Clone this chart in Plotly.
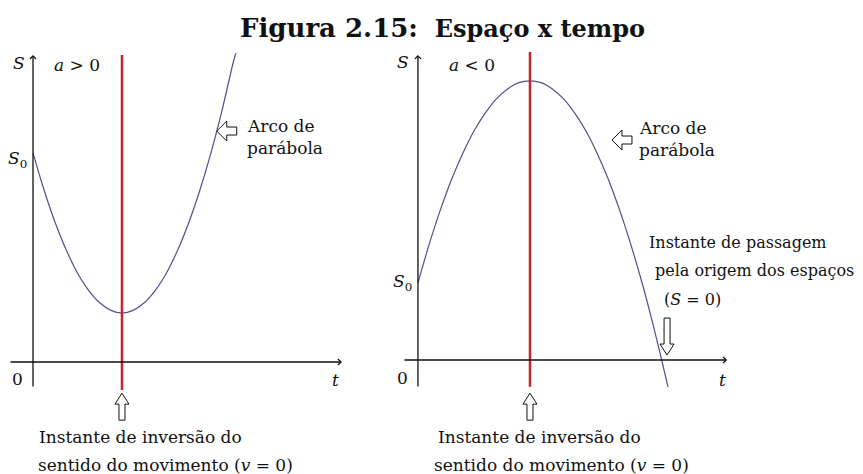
import plotly.graph_objects as go

# curve points (t, S) for each panel
t_pos = [0, 0.25, 0.5, 0.75, 1.0, 1.25, 1.5, 1.75, 2.0, 2.25, 2.5, 2.75, 3.0, 3.25, 3.5, 3.75, 4.0, 4.25, 4.5, 4.56]
s_pos = [4.70, 3.86, 3.13, 2.51, 2.00, 1.61, 1.33, 1.16, 1.10, 1.16, 1.33, 1.61, 2.00, 2.51, 3.13, 3.86, 4.70,
         5.66, 6.73, 6.94]

t_neg = [0, 0.25, 0.5, 0.75, 1.0, 1.25, 1.5, 1.75, 2.0, 2.25, 2.5, 2.75, 3.0, 3.25, 3.5, 3.75, 4.0, 4.25, 4.5,
         4.75, 5.0, 5.25, 5.44, 5.58]
s_neg = [1.72, 2.58, 3.35, 4.03, 4.61, 5.11, 5.51, 5.83, 6.05, 6.19, 6.23, 6.19, 6.05, 5.83, 5.51, 5.11, 4.61,
         4.03, 3.35, 2.58, 1.73, 0.78, 0.0, -0.60]

t_inv_pos = 2.0   # instante de inversao (a > 0)
t_inv_neg = 2.5   # instante de inversao (a < 0)
t_zero_neg = 5.56 # passagem pela origem

FONT = "DejaVu Serif"
CURVE = "#50508c"
RED = "#c8252b"

fig = go.Figure()

fig.add_trace(go.Scatter(x=t_pos, y=s_pos, mode="lines", line=dict(color=CURVE, width=1.2, shape="spline", smoothing=1),
                         xaxis="x", yaxis="y", showlegend=False, hoverinfo="skip"))
fig.add_trace(go.Scatter(x=[t_inv_pos, t_inv_pos], y=[-0.63, 6.90], mode="lines", line=dict(color=RED, width=2.5),
                         xaxis="x", yaxis="y", showlegend=False, hoverinfo="skip"))

fig.add_trace(go.Scatter(x=t_neg, y=s_neg, mode="lines", line=dict(color=CURVE, width=1.2, shape="spline", smoothing=1),
                         xaxis="x2", yaxis="y2", showlegend=False, hoverinfo="skip"))
fig.add_trace(go.Scatter(x=[t_inv_neg, t_inv_neg], y=[-0.60, 6.875], mode="lines", line=dict(color=RED, width=2.5),
                         xaxis="x2", yaxis="y2", showlegend=False, hoverinfo="skip"))

ann = []


def arrow_axis(xr, yr, x, y, ax, ay):
    ann.append(dict(x=x, y=y, ax=ax, ay=ay, xref=xr, yref=yr, axref=xr, ayref=yr, text="",
                    showarrow=True, arrowhead=4, arrowsize=0.9, arrowwidth=1.3, arrowcolor="#111", standoff=0))


def txt(xr, yr, x, y, s, size=17, anchor="left"):
    ann.append(dict(x=x, y=y, xref=xr, yref=yr, text=s, showarrow=False, xanchor=anchor, yanchor="middle",
                    font=dict(family=FONT, size=size, color="#111")))


# left panel
arrow_axis("x", "y", 0, 6.90, 0, -0.584)
arrow_axis("x", "y", 6.944, 0, -0.539, 0)
txt("x", "y", -0.14, 6.72, "<i>S</i>", anchor="right")
txt("x", "y", 0.99, 6.67, "<i>a</i> &gt; 0", anchor="center")
txt("x", "y", -0.08, 4.54, "<i>S</i><sub>0</sub>", anchor="right")
txt("x", "y", -0.17, -0.38, "0", anchor="right")
txt("x", "y", 6.79, -0.40, "<i>t</i>", anchor="center")
txt("x", "y", 4.76, 5.30, "Arco de")
txt("x", "y", 4.76, 4.81, "parábola")
txt("x", "y", 0.10, -1.69, "Instante de inversão do")
txt("x", "y", 0.07, -2.32, "sentido do movimento (<i>v</i> = 0)")

# right panel
arrow_axis("x2", "y2", 0, 6.81, 0, -0.625)
arrow_axis("x2", "y2", 6.90, 0, -0.335, 0)
txt("x2", "y2", -0.16, 6.65, "<i>S</i>", anchor="right")
txt("x2", "y2", 1.21, 6.58, "<i>a</i> &lt; 0", anchor="center")
txt("x2", "y2", -0.08, 1.72, "<i>S</i><sub>0</sub>", anchor="right")
txt("x2", "y2", -0.18, -0.40, "0", anchor="right")
txt("x2", "y2", 6.79, -0.45, "<i>t</i>", anchor="center")
txt("x2", "y2", 4.89, 5.18, "Arco de")
txt("x2", "y2", 4.89, 4.69, "parábola")
txt("x2", "y2", 5.11, 2.63, "Instante de passagem", size=16)
txt("x2", "y2", 5.25, 1.99, "pela origem dos espaços", size=16)
txt("x2", "y2", 5.45, 1.36, "(<i>S</i> = 0)", size=16)
txt("x2", "y2", 0.40, -1.71, "Instante de inversão do")
txt("x2", "y2", 0.31, -2.34, "sentido do movimento (<i>v</i> = 0)")

ann.append(dict(x=0.508, y=0.957, xref="paper", yref="paper", showarrow=False, xanchor="center", yanchor="middle",
                text="<b><span style='font-size:26px'>Figura 2.15:</span>  "
                     "<span style='font-size:24px'>Espaço x tempo</span></b>",
                font=dict(family=FONT, size=24, color="#111")))

# hollow block arrows (pixel sized, anchored at the tip)
up = "M0,0 L7,-11 L3,-11 L3,-27 L-3,-27 L-3,-11 L-7,-11 Z"
down = "M0,0 L7,11 L3,11 L3,37 L-3,37 L-3,11 L-7,11 Z"
left = "M0,0 L10,10 L10,4 L20,4 L20,-4 L10,-4 L10,-10 Z"

shapes = []


def block(xr, yr, x, y, path):
    shapes.append(dict(type="path", path=path, xref=xr, yref=yr, xsizemode="pixel", ysizemode="pixel",
                       xanchor=x, yanchor=y, fillcolor="white", line=dict(color="#111", width=1)))


block("x", "y", t_inv_pos, -0.70, up)
block("x", "y", 4.13, 5.19, left)
block("x2", "y2", t_inv_neg, -0.74, up)
block("x2", "y2", 4.33, 4.91, left)
block("x2", "y2", t_zero_neg, 0.11, down)

# page body has an 8px margin, so the figure is 8px smaller than the window
ax_common = dict(visible=False, showgrid=False, zeroline=False, fixedrange=True)
fig.update_layout(
    width=855, height=466,
    margin=dict(l=0, r=0, t=0, b=0),
    paper_bgcolor="white", plot_bgcolor="white",
    xaxis=dict(domain=[0, 0.4444], range=[-0.5618, 7.978], **ax_common),
    yaxis=dict(domain=[0, 1], range=[-2.517, 7.955], **ax_common),
    xaxis2=dict(domain=[0.4444, 1], range=[-0.6696, 9.933], anchor="y2", **ax_common),
    yaxis2=dict(domain=[0, 1], range=[-2.545, 7.857], anchor="x2", **ax_common),
    annotations=ann,
    shapes=shapes,
)

fig.write_html("out.html")
